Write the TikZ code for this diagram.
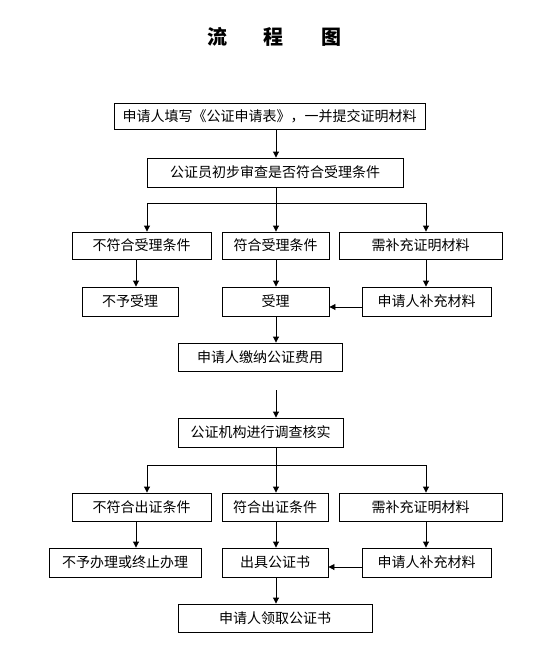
\documentclass[tikz,border=0pt]{standalone}
\usepackage{fontspec}
\newfontfamily\cjk{Noto Sans CJK SC}
\usetikzlibrary{arrows.meta}
\begin{document}
\begin{tikzpicture}[x=1pt,y=-1pt,
  box/.style={draw,line width=0.9pt,inner sep=0pt,font=\cjk\fontsize{14}{15}\selectfont},
  arr/.style={line width=0.9pt,-{Triangle[length=6pt,width=6pt]}},
  ln/.style={line width=0.9pt}]
\useasboundingbox (0,0) rectangle (540,664);
\fill[white] (0,0) rectangle (540,664);
\newcommand{\bx}[6]{\node[box,minimum width={#3-#2},minimum height={#5-#4}] (#1) at ({(#2+#3)/2},{(#4+#5)/2}) {#6};}
\node[font=\cjk\bfseries\fontsize{20}{22}\selectfont] (title) at (274.5,37) {流\hspace{36pt}程\hspace{38pt}图};
\bx{b1}{114}{425}{103}{129}{申请人填写《公证申请表》，一并提交证明材料}
\bx{b2}{147}{403}{158}{187}{公证员初步审查是否符合受理条件}
\bx{a1}{72}{211}{232}{259}{不符合受理条件}
\bx{a2}{222}{329}{232}{259}{符合受理条件}
\bx{a3}{339}{502}{232}{259}{需补充证明材料}
\bx{a4}{82}{178}{287}{316}{不予受理}
\bx{a5}{222}{329}{287}{316}{受理}
\bx{a6}{362}{491}{287}{316}{申请人补充材料}
\bx{b3}{178}{342}{343}{371}{申请人缴纳公证费用}
\bx{b4}{178}{343}{418}{447}{公证机构进行调查核实}
\bx{c1}{72}{211}{493}{521}{不符合出证条件}
\bx{c2}{222}{328}{493}{521}{符合出证条件}
\bx{c3}{339}{502}{493}{521}{需补充证明材料}
\bx{c4}{49}{201}{548}{577}{不予办理或终止办理}
\bx{c5}{222}{328}{548}{577}{出具公证书}
\bx{c6}{362}{491}{548}{577}{申请人补充材料}
\bx{b5}{178}{372}{604}{632}{申请人领取公证书}
% column coordinates
\coordinate (m) at (276,0);
\coordinate (l) at (147,0);
\coordinate (r) at (426,0);
\coordinate (ll) at (136,0);
\coordinate (j1) at (276,203);
\coordinate (j2) at (276,465);
\coordinate (g) at (276,390);
% top
\draw[arr] (b1.south -| m) -- (b2.north -| m);
\draw[ln] (b2.south -| m) -- (j1);
\draw[ln] (j1 -| l) -- (j1 -| r);
\draw[arr] (j1 -| l) -- (a1.north -| l);
\draw[arr] (j1) -- (a2.north -| m);
\draw[arr] (j1 -| r) -- (a3.north -| r);
\draw[arr] (a1.south -| ll) -- (a4.north -| ll);
\draw[arr] (a2.south -| m) -- (a5.north -| m);
\draw[arr] (a3.south -| r) -- (a6.north -| r);
\coordinate (h1) at (0,307);
\draw[arr] (a6.west |- h1) -- (a5.east |- h1);
\draw[arr] (a5.south -| m) -- (b3.north -| m);
\draw[arr] (g) -- (b4.north -| m);
% bottom
\draw[ln] (b4.south -| m) -- (j2);
\draw[ln] (j2 -| l) -- (j2 -| r);
\draw[arr] (j2 -| l) -- (c1.north -| l);
\draw[arr] (j2) -- (c2.north -| m);
\draw[arr] (j2 -| r) -- (c3.north -| r);
\draw[arr] (c1.south -| ll) -- (c4.north -| ll);
\draw[arr] (c2.south -| m) -- (c5.north -| m);
\draw[arr] (c3.south -| r) -- (c6.north -| r);
\coordinate (h2) at (0,567);
\draw[arr] (c6.west |- h2) -- (c5.east |- h2);
\draw[arr] (c5.south -| m) -- (b5.north -| m);
\end{tikzpicture}
\end{document}
